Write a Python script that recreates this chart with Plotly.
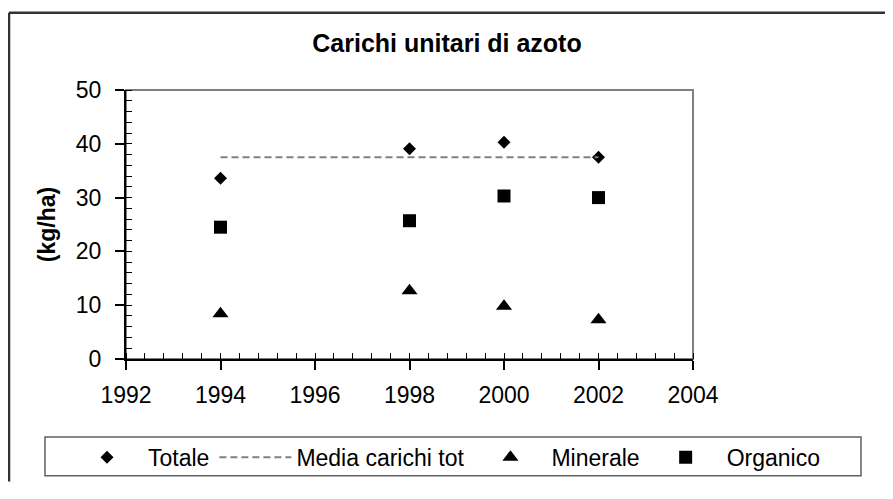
import plotly.graph_objects as go

# Carichi unitari di azoto (kg/ha)
anni = [1994, 1998, 2000, 2002]
totale = [33.6, 39.1, 40.3, 37.5]
minerale = [8.4, 12.7, 9.8, 7.3]
organico = [24.5, 25.7, 30.3, 30.0]

anni_media = [1994, 2002]
media_carichi = [37.5, 37.5]

x_ticks = [1992, 1994, 1996, 1998, 2000, 2002, 2004]
y_ticks = [0, 10, 20, 30, 40, 50]

FONT = "Arial, Liberation Sans, sans-serif"
# the page body adds an 8px margin, keep the figure inside the window
W, H = 877, 483
L, R, T, B = 118, 192, 82, 122
pw, ph = W - L - R, H - T - B


def px_x(v):
    return (v - L) / pw


def px_y(v):
    return (H - B - v) / ph


fig = go.Figure()
fig.add_trace(
    go.Scatter(
        x=anni, y=totale, mode="markers", name="Totale",
        marker=dict(symbol="diamond", size=10, color="black"),
    )
)
fig.add_trace(
    go.Scatter(
        x=anni_media, y=media_carichi, mode="lines", name="Media carichi tot",
        line=dict(color="#808080", width=2, dash="7px,4px"),
    )
)
fig.add_trace(
    go.Scatter(
        x=anni, y=minerale, mode="markers", name="Minerale",
        marker=dict(symbol="triangle-up", size=14, color="black"),
    )
)
fig.add_trace(
    go.Scatter(
        x=anni, y=organico, mode="markers", name="Organico",
        marker=dict(symbol="square", size=13, color="black"),
    )
)

# plot frame (top/right in grey)
fig.add_shape(type="rect", xref="paper", yref="paper", x0=0, x1=1, y0=0, y1=1,
              line=dict(color="#808080", width=2), layer="below")
# outer chart border: only the left and top edges fall inside the window
border = dict(color="#333333", width=2.5)
fig.add_shape(type="line", xref="paper", yref="paper",
              x0=px_x(1), x1=px_x(1), y0=px_y(H + 5), y1=px_y(2), line=border)
fig.add_shape(type="line", xref="paper", yref="paper",
              x0=px_x(1), x1=px_x(W + 5), y0=px_y(2), y1=px_y(2), line=border)
# legend box
fig.add_shape(type="rect", xref="paper", yref="paper",
              x0=px_x(37), x1=px_x(853), y0=px_y(482), y1=px_y(442),
              line=dict(color="#606060", width=1.5), layer="below")

fig.update_layout(
    width=W, height=H,
    margin=dict(l=L, r=R, t=T, b=B),
    paper_bgcolor="white", plot_bgcolor="white",
    font=dict(family=FONT, size=23, color="black"),
    title=dict(text="<b>Carichi unitari di azoto</b>", x=439 / W, xanchor="center",
               y=1 - 35 / H, yanchor="middle", font=dict(size=25)),
    showlegend=True,
    legend=dict(
        orientation="h", xref="paper", yref="paper",
        x=px_x(817), xanchor="right", y=px_y(463), yanchor="middle",
        bgcolor="rgba(0,0,0,0)", borderwidth=0, font=dict(size=23),
        itemwidth=72,
    ),
)
fig.update_xaxes(
    range=[1992, 2004], tickvals=x_ticks, ticks="outside", ticklen=9,
    tickcolor="black", tickwidth=1.5, showline=True, linecolor="black",
    linewidth=2, showgrid=False, zeroline=False, ticklabelstandoff=5,
    minor=dict(dtick=0.4, ticks="inside", ticklen=6, tickcolor="black", tickwidth=1.2),
)
fig.update_yaxes(
    range=[0, 50], tickvals=y_ticks, ticks="outside", ticklen=9,
    tickcolor="black", tickwidth=1.5, showline=True, linecolor="black",
    linewidth=2, showgrid=False, zeroline=False, ticklabelstandoff=9,
    minor=dict(dtick=2, ticks="inside", ticklen=6, tickcolor="black", tickwidth=1.2),
    title=dict(text="<b>(kg/ha)</b>", font=dict(size=23), standoff=14),
)

fig.write_html("out.html")
